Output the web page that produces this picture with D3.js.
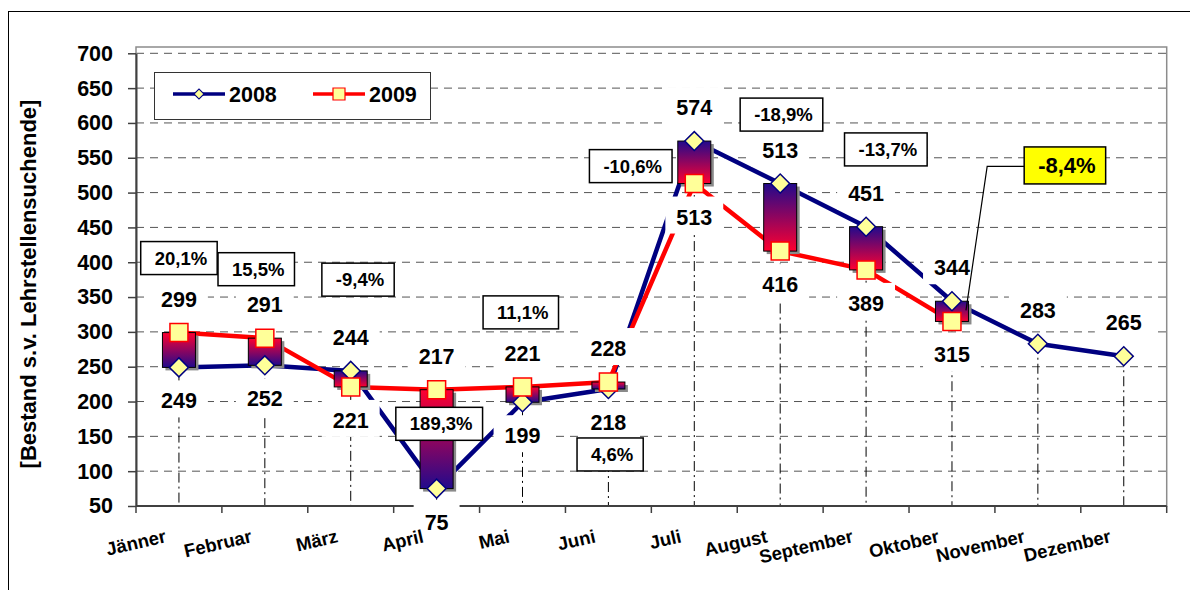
<!DOCTYPE html>
<html><head><meta charset="utf-8">
<script src="https://cdn.jsdelivr.net/npm/d3@7"></script>
<style>
body{margin:0;background:#fff}
svg{display:block}
text{font-family:"Liberation Sans",Arial,sans-serif;font-weight:bold}
</style>
</head><body>
<svg id="c" width="1190" height="590"></svg>
<script>
// ---------- data ----------
const categories = ["Jänner","Februar","März","April","Mai","Juni","Juli","August","September","Oktober","November","Dezember"];
const values2008 = [249,252,244,75,199,218,574,513,451,344,283,265];
const values2009 = [299,291,221,217,221,228,513,416,389,315,null,null];
const seriesNames = ["2008","2009"];
const yTickValues = [50,100,150,200,250,300,350,400,450,500,550,600,650,700];
const yTitle = "[Bestand s.v. Lehrstellensuchende]";

// ---------- layout (annotation placement: band offset, value level) ----------
const pctLayout = [
  {dx:0.00, v:406}, {dx:-0.10, v:390}, {dx:0.085, v:375}, {dx:0.03, v:168},
  {dx:-0.02, v:328}, {dx:0.02, v:124}, {dx:-0.74, v:538}, {dx:0.015, v:612},
  {dx:0.23, v:562}, {dx:1.315, v:539}
];
const highlightIndex = 9;

const FONT = '"Liberation Sans",Arial,sans-serif';
const plot = {left:136, right:1166.7, top:47, bottom:506, yTop:53.3};
const NAVY = "#000080", RED = "#ff0000", MFILL = "#ffff99";

const svg = d3.select("#c");
const defs = svg.append("defs");
function grad(id, top, bottom){
  const g = defs.append("linearGradient").attr("id",id).attr("x1",0).attr("y1",0).attr("x2",0).attr("y2",1);
  g.append("stop").attr("offset","0%").attr("stop-color",top);
  g.append("stop").attr("offset","100%").attr("stop-color",bottom);
}
const GRED = "#ff0030", GNAVY = "#220a8c";
grad("gUp", GRED, GNAVY);   // 2009 above 2008
grad("gDown", GNAVY, GRED); // 2008 above 2009

// layers
const L = {};
["frame","grid","drop","axes","lines","bars","lblBg","xlab","markers","lblText","pct","legend","title"]
  .forEach(k=>L[k]=svg.append("g"));

const x = d3.scaleBand().domain(categories).range([plot.left, plot.right]).padding(0);
const y = d3.scaleLinear().domain([50,700]).range([plot.bottom, plot.yTop]);
const cx = c => x(c) + x.bandwidth()/2;

const rows = categories.map((c,i)=>({c, i, a:values2008[i], b:values2009[i]}));

// outer frame
L.frame.append("rect").attr("x",8.5).attr("y",11.5).attr("width",1200).attr("height",600)
  .attr("fill","none").attr("stroke","#000").attr("stroke-width",1);

// gridlines
L.grid.selectAll("line").data(yTickValues.filter(v=>v>50)).join("line")
  .attr("x1",plot.left).attr("x2",plot.right)
  .attr("y1",d=>y(d)).attr("y2",d=>y(d))
  .attr("stroke","#555").attr("stroke-width",1).attr("stroke-dasharray","8,6");

// plot border
L.grid.append("rect").attr("x",plot.left).attr("y",plot.top)
  .attr("width",plot.right-plot.left).attr("height",plot.bottom-plot.top)
  .attr("fill","none").attr("stroke","#8c8c8c").attr("stroke-width",1.5);

// drop lines
L.drop.selectAll("line").data(rows).join("line")
  .attr("x1",d=>cx(d.c)).attr("x2",d=>cx(d.c))
  .attr("y1",d=>y(d3.max([d.a,d.b]))).attr("y2",y(50))
  .attr("stroke","#000").attr("stroke-width",1).attr("stroke-dasharray","10,4,2,4");

// y axis
const yAxis = L.axes.append("g").attr("transform",`translate(${plot.left},0)`)
  .call(d3.axisLeft(y).tickValues(yTickValues).tickSize(8).tickSizeOuter(0).tickPadding(15));
yAxis.attr("font-family",FONT).attr("font-size",21.5).attr("font-weight","bold");
yAxis.select(".domain").attr("stroke","#404040").attr("stroke-width",2);
yAxis.selectAll(".tick line").attr("stroke","#404040").attr("stroke-width",1.5);
yAxis.selectAll(".tick text").attr("fill","#000");

// x axis line + boundary ticks
L.axes.append("line").attr("x1",plot.left).attr("x2",plot.right).attr("y1",plot.bottom).attr("y2",plot.bottom)
  .attr("stroke","#404040").attr("stroke-width",2);
L.axes.append("g").selectAll("line").data(categories.map(c=>x(c)).concat([plot.right])).join("line")
  .attr("x1",d=>d).attr("x2",d=>d).attr("y1",plot.bottom).attr("y2",plot.bottom+7)
  .attr("stroke","#404040").attr("stroke-width",1.5);

// series lines
const line = d3.line().defined(d=>d.v!=null).x(d=>cx(d.c)).y(d=>y(d.v));
L.lines.append("path").datum(rows.map(d=>({c:d.c,v:d.a}))).attr("d",line)
  .attr("fill","none").attr("stroke",NAVY).attr("stroke-width",4.5).attr("stroke-linejoin","round");
L.lines.append("path").datum(rows.map(d=>({c:d.c,v:d.b}))).attr("d",line)
  .attr("fill","none").attr("stroke",RED).attr("stroke-width",4.5).attr("stroke-linejoin","round");

// up-down bars
const barW = 33;
const barRows = rows.filter(d=>d.b!=null);
L.bars.append("g").selectAll("rect").data(barRows).join("rect")
  .attr("x",d=>cx(d.c)-barW/2+3).attr("y",d=>y(Math.max(d.a,d.b))+3)
  .attr("width",barW).attr("height",d=>Math.abs(y(d.a)-y(d.b)))
  .attr("fill","#8a8a8a");
L.bars.append("g").selectAll("rect").data(barRows).join("rect")
  .attr("x",d=>cx(d.c)-barW/2).attr("y",d=>y(Math.max(d.a,d.b)))
  .attr("width",barW).attr("height",d=>Math.abs(y(d.a)-y(d.b)))
  .attr("fill",d=>d.b>d.a?"url(#gUp)":"url(#gDown)")
  .attr("stroke","#000").attr("stroke-width",1);

// data labels (with white backgrounds)
const labels = [];
rows.forEach(d=>{
  if(d.b==null){ labels.push({c:d.c, v:d.a, pos:"above"}); return; }
  labels.push({c:d.c, v:Math.max(d.a,d.b), pos:"above"});
  labels.push({c:d.c, v:Math.min(d.a,d.b), pos:"below"});
});
labels.forEach(l=>{
  const by = l.pos==="above" ? y(l.v)-26 : y(l.v)+41;
  const t = L.lblText.append("text").attr("x",cx(l.c)).attr("y",by)
    .attr("text-anchor","middle").attr("font-size",21.5).attr("fill","#000").text(l.v);
  const w = t.node().getComputedTextLength();
  L.lblBg.append("rect").attr("x",cx(l.c)-w/2-11).attr("y",by-28)
    .attr("width",w+22).attr("height",37).attr("fill","#fff");
});

// x category labels
const xAxis = L.xlab.attr("transform",`translate(0,${plot.bottom})`)
  .call(d3.axisBottom(x).tickSize(0));
xAxis.select(".domain").remove();
xAxis.attr("font-family",FONT).attr("font-size",18.5).attr("font-weight","bold");
xAxis.selectAll(".tick text").attr("fill","#000").attr("text-anchor","end")
  .attr("x",0).attr("y",0).attr("dy",0)
  .attr("transform","translate(-12,36) rotate(-13)");

// markers
const diamond = d3.symbol(d3.symbolSquare, 180);
const square = d3.symbol(d3.symbolSquare, 324);
L.markers.append("g").selectAll("path").data(rows).join("path")
  .attr("d",diamond).attr("transform",d=>`translate(${cx(d.c)},${y(d.a)}) rotate(45)`)
  .attr("fill",MFILL).attr("stroke",NAVY).attr("stroke-width",1.5);
L.markers.append("g").selectAll("path").data(rows.filter(d=>d.b!=null)).join("path")
  .attr("d",square).attr("transform",d=>`translate(${cx(d.c)},${y(d.b)})`)
  .attr("fill",MFILL).attr("stroke",RED).attr("stroke-width",1.5);

// percentage annotation boxes
barRows.forEach((d,k)=>{
  const lay = pctLayout[k];
  const pct = ((d.b/d.a-1)*100).toFixed(1).replace(".",",")+"%";
  const hl = k===highlightIndex;
  const fs = hl?22:18.5, h = hl?37:33;
  const px = cx(d.c) + lay.dx*x.bandwidth();
  const py = y(lay.v);
  const g = L.pct.append("g");
  const r = g.append("rect");
  const t = g.append("text").attr("x",px+2).attr("y",py+fs*0.36)
    .attr("text-anchor","middle").attr("font-size",fs).attr("fill","#000").text(pct);
  const w = t.node().getComputedTextLength()+24;
  r.attr("x",px-w/2).attr("y",py-h/2).attr("width",w).attr("height",h)
    .attr("fill",hl?"#ffff00":"#fff").attr("stroke","#000").attr("stroke-width",1.5);
  if(hl){
    const x0 = px-w/2;
    g.insert("path","rect").attr("d",`M${x0},${py+1}H${x0-37}L${cx(d.c)+14},${y(331)}`)
      .attr("fill","none").attr("stroke","#000").attr("stroke-width",1.2);
  }
});

// legend
const lg = L.legend;
lg.append("rect").attr("x",154.5).attr("y",72.5).attr("width",276).attr("height",47)
  .attr("fill","#fff").attr("stroke","#333").attr("stroke-width",1);
const legendItems = [
  {name:seriesNames[0], color:NAVY, sym:d3.symbol(d3.symbolSquare,50), rot:45, x0:173},
  {name:seriesNames[1], color:RED, sym:d3.symbol(d3.symbolSquare,144), rot:0, x0:313}
];
legendItems.forEach(it=>{
  lg.append("line").attr("x1",it.x0).attr("x2",it.x0+52).attr("y1",94).attr("y2",94)
    .attr("stroke",it.color).attr("stroke-width",3.5);
  lg.append("path").attr("d",it.sym).attr("transform",`translate(${it.x0+26},94) rotate(${it.rot})`)
    .attr("fill",MFILL).attr("stroke",it.color).attr("stroke-width",1.2);
  lg.append("text").attr("x",it.x0+56).attr("y",101.5).attr("font-size",21.5).attr("fill","#000").text(it.name);
});

// y title
L.title.append("text").attr("transform","translate(36,284) rotate(-90)")
  .attr("text-anchor","middle").attr("font-size",22).attr("fill","#000").text(yTitle);
</script>
</body></html>
